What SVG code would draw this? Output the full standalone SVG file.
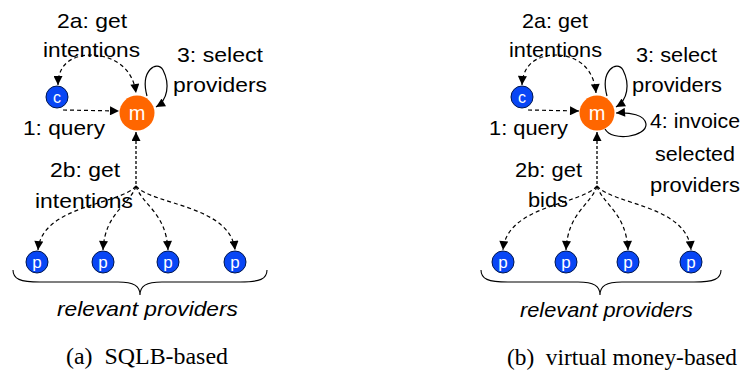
<svg xmlns="http://www.w3.org/2000/svg" width="741" height="371" viewBox="0 0 741 371">
<style>
.lbl{font-family:"Liberation Sans",Arial,sans-serif;font-size:21px;fill:#000}
.it{font-style:italic}
.cap{font-family:"Liberation Serif","Times New Roman",serif;font-size:23px;fill:#000}
.nt{font-family:"Liberation Sans",Arial,sans-serif;fill:#fff;text-anchor:middle}
.blue{fill:#0846f5;stroke:#00164d;stroke-width:1}
.orange{fill:#ff6600}
.dash{fill:none;stroke:#000;stroke-width:1.2;stroke-dasharray:4,3;marker-end:url(#ah)}
.dd{fill:none;stroke:#000;stroke-width:1.3;stroke-dasharray:3,2;marker-end:url(#ah)}
.solid{fill:none;stroke:#000;stroke-width:1.2;marker-end:url(#ah)}
.brace{fill:none;stroke:#000;stroke-width:1.1}
</style>
<defs>
<marker id="ah" viewBox="0 0 10 10" refX="10" refY="5" markerWidth="10" markerHeight="9" markerUnits="userSpaceOnUse" orient="auto">
<path d="M0,0 L10,5 L0,10 z" fill="#000"/>
</marker>
</defs>
<rect width="741" height="371" fill="#fff"/>

<g id="connectors">
<path class="dash" d="M63,110 L119,111"/>
<path class="dash" d="M92,55 C72,55 58,64 58,85"/>
<path class="dash" d="M94,55 C117,57 133,70 136,93"/>
<path class="solid" d="M147,96 C140,70 157,60 163,70 C170,84 168,100 156,107"/>
<path class="dd" d="M136,184 L136,132"/>
<path class="dash" d="M136,186 C120,205 42,205 38,250"/>
<path class="dash" d="M136,186 C130,205 105,212 103,250"/>
<path class="dash" d="M136,186 C142,205 166,212 168,250"/>
<path class="dash" d="M136,186 C152,205 230,205 235,250"/>
<path class="dash" d="M528,110 L579,111"/>
<path class="dash" d="M557,55 C537,55 523,64 522,85"/>
<path class="dash" d="M559,55 C580,57 594,70 596,93"/>
<path class="solid" d="M607,96 C600,70 617,60 623,70 C630,84 628,100 616,107"/>
<path class="solid" d="M605,129 C612,142 647,137 646,124 C645,115 630,112 616,113"/>
<path class="dd" d="M597,184 L597,132"/>
<path class="dash" d="M597,186 C581,205 507,205 503,250"/>
<path class="dash" d="M597,186 C591,205 568,212 566,250"/>
<path class="dash" d="M597,186 C603,205 626,212 628,250"/>
<path class="dash" d="M597,186 C613,205 687,205 691,250"/>
<path class="brace" d="M13,270 C13,279 20,282 40,282 L118,282 C134,282 140,286 140,295 C140,286 146,282 162,282 L240,282 C260,282 267,279 267,270"/>
<path class="brace" d="M481,270 C481,279 488,282 508,282 L578,282 C594,282 600,286 600,295 C600,286 606,282 622,282 L694,282 C714,282 721,279 721,270"/>
</g>

<g id="a-c"><circle class="blue" cx="57" cy="97" r="11"/><text class="nt" x="57" y="102.5" font-size="16">c</text></g>
<g id="a-m"><circle class="orange" cx="137" cy="113" r="17.5"/><text class="nt" x="137" y="120" font-size="20">m</text></g>
<g id="a-p1"><circle class="blue" cx="37" cy="262" r="11"/><text class="nt" x="37" y="268" font-size="17">p</text></g>
<g id="a-p2"><circle class="blue" cx="103" cy="262" r="11"/><text class="nt" x="103" y="268" font-size="17">p</text></g>
<g id="a-p3"><circle class="blue" cx="168" cy="262" r="11"/><text class="nt" x="168" y="268" font-size="17">p</text></g>
<g id="a-p4"><circle class="blue" cx="235" cy="262" r="11"/><text class="nt" x="235" y="268" font-size="17">p</text></g>

<g id="b-c"><circle class="blue" cx="522" cy="97" r="11"/><text class="nt" x="522" y="102.5" font-size="16">c</text></g>
<g id="b-m"><circle class="orange" cx="597" cy="113" r="17.5"/><text class="nt" x="597" y="120" font-size="20">m</text></g>
<g id="b-p1"><circle class="blue" cx="503" cy="262" r="11"/><text class="nt" x="503" y="268" font-size="17">p</text></g>
<g id="b-p2"><circle class="blue" cx="566" cy="262" r="11"/><text class="nt" x="566" y="268" font-size="17">p</text></g>
<g id="b-p3"><circle class="blue" cx="628" cy="262" r="11"/><text class="nt" x="628" y="268" font-size="17">p</text></g>
<g id="b-p4"><circle class="blue" cx="691" cy="262" r="11"/><text class="nt" x="691" y="268" font-size="17">p</text></g>

<g id="labels">
<text class="lbl" x="57" y="27.5" textLength="70" lengthAdjust="spacingAndGlyphs">2a: get</text>
<text class="lbl" x="43" y="57" textLength="97" lengthAdjust="spacingAndGlyphs">intentions</text>
<text class="lbl" x="177" y="62" textLength="86" lengthAdjust="spacingAndGlyphs">3: select</text>
<text class="lbl" x="173" y="92" textLength="94" lengthAdjust="spacingAndGlyphs">providers</text>
<text class="lbl" x="23" y="135" textLength="82" lengthAdjust="spacingAndGlyphs">1: query</text>
<text class="lbl" x="50" y="177" textLength="70" lengthAdjust="spacingAndGlyphs">2b: get</text>
<text class="lbl" x="35" y="208" textLength="98" lengthAdjust="spacingAndGlyphs">intentions</text>
<text class="lbl it" x="57" y="316" textLength="181" lengthAdjust="spacingAndGlyphs">relevant providers</text>
<text class="cap" x="66" y="364" textLength="162" lengthAdjust="spacingAndGlyphs" xml:space="preserve">(a)  SQLB-based</text>

<text class="lbl" x="522" y="27.5" textLength="66" lengthAdjust="spacingAndGlyphs">2a: get</text>
<text class="lbl" x="509" y="57" textLength="93" lengthAdjust="spacingAndGlyphs">intentions</text>
<text class="lbl" x="636" y="62" textLength="81" lengthAdjust="spacingAndGlyphs">3: select</text>
<text class="lbl" x="632" y="92" textLength="90" lengthAdjust="spacingAndGlyphs">providers</text>
<text class="lbl" x="650" y="128" textLength="90" lengthAdjust="spacingAndGlyphs">4: invoice</text>
<text class="lbl" x="655" y="161" textLength="80" lengthAdjust="spacingAndGlyphs">selected</text>
<text class="lbl" x="650" y="192" textLength="90" lengthAdjust="spacingAndGlyphs">providers</text>
<text class="lbl" x="489" y="135" textLength="79" lengthAdjust="spacingAndGlyphs">1: query</text>
<text class="lbl" x="515" y="177" textLength="67" lengthAdjust="spacingAndGlyphs">2b: get</text>
<text class="lbl" x="528" y="207" textLength="40" lengthAdjust="spacingAndGlyphs">bids</text>
<text class="lbl it" x="520" y="317" textLength="173" lengthAdjust="spacingAndGlyphs">relevant providers</text>
<text class="cap" x="507" y="365" textLength="230" lengthAdjust="spacingAndGlyphs" xml:space="preserve">(b)  virtual money-based</text>
</g>
</svg>
